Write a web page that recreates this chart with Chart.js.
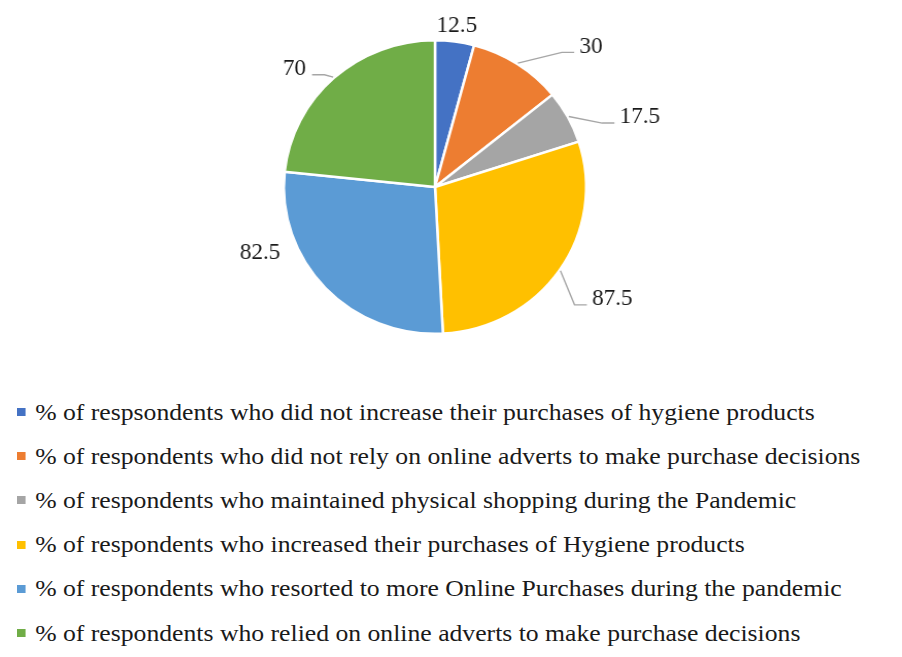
<!DOCTYPE html>
<html>
<head>
<meta charset="utf-8">
<script src="https://cdn.jsdelivr.net/npm/chart.js@4/dist/chart.umd.min.js"></script>
<style>
  html, body { margin: 0; padding: 0; background: #fff; }
  #wrap { position: relative; width: 902px; height: 657px; overflow: hidden; }
  #pie { position: absolute; left: 0; top: 0; transform: scaleX(1.03); transform-origin: 435px 0; }
  #legend { position: absolute; left: 17px; top: 390px; font-family: "Liberation Serif", "Times New Roman", serif; font-size: 24px; color: #1a1a1a; transform: scaleX(1.07); transform-origin: 0 0; }
  .row { display: flex; align-items: center; height: 44.2px; white-space: nowrap; }
  .box { width: 8px; height: 8px; margin-right: 9px; flex: none; }
</style>
</head>
<body>
<div id="wrap">
  <canvas id="pie" width="902" height="380"></canvas>
  <div id="legend"></div>
</div>
<script>
// ─── Data ───
const categories = [
  '% of respsondents who did not increase their purchases of hygiene products',
  '% of respondents who did not rely on online adverts to make purchase decisions',
  '% of respondents who maintained physical shopping during the Pandemic',
  '% of respondents who increased their purchases of Hygiene products',
  '% of respondents who resorted to more Online Purchases during the pandemic',
  '% of respondents who relied on online adverts to make purchase decisions',
];
const values = [12.5, 30, 17.5, 87.5, 82.5, 70];
const valueLabels = ['12.5', '30', '17.5', '87.5', '82.5', '70'];
const colors = ['#4472C4', '#ED7D31', '#A5A5A5', '#FFC000', '#5B9BD5', '#70AD47'];

// label placement relative to each slice: angle shift (deg) from slice middle, distance from centre (px), leader line?
const labelShift = [0, 14, 9, -1.6, 22.5, -7];
const labelDist = [163, 207, 211, 205, 182, 181];
const labelLeader = [false, true, true, true, false, true];

// ─── Outside labels with leader lines ───
const outsideLabels = {
  id: 'outsideLabels',
  afterDatasetsDraw(chart) {
    const ctx = chart.ctx;
    const meta = chart.getDatasetMeta(0);
    ctx.save();
    ctx.font = '22.5px "Liberation Serif", "Times New Roman", serif';
    ctx.textAlign = 'center';
    ctx.textBaseline = 'middle';
    meta.data.forEach((arc, i) => {
      const { x, y, outerRadius, startAngle, endAngle } = arc.getProps(['x', 'y', 'outerRadius', 'startAngle', 'endAngle'], true);
      const mid = (startAngle + endAngle) / 2;
      const a = mid + labelShift[i] * Math.PI / 180;
      const lx = x + labelDist[i] * Math.cos(a);
      const ly = y + labelDist[i] * Math.sin(a);
      const w = ctx.measureText(valueLabels[i]).width;

      if (labelLeader[i]) {
        const sx = x + (outerRadius + 1) * Math.cos(mid);
        const sy = y + (outerRadius + 1) * Math.sin(mid);
        const right = lx > x;
        const ex = right ? lx - w / 2 - 5 : lx + w / 2 + 6;
        const ey = ly + 6.5;
        const bx = right ? ex - 12 : ex + 12;
        ctx.strokeStyle = '#A6A6A6';
        ctx.lineWidth = 1.4;
        ctx.beginPath();
        ctx.moveTo(sx, sy);
        ctx.lineTo(bx, ey);
        ctx.lineTo(ex, ey);
        ctx.stroke();
      }
      ctx.fillStyle = '#1a1a1a';
      ctx.fillText(valueLabels[i], lx, ly + 1);
    });
    ctx.restore();
  },
};

new Chart(document.getElementById('pie').getContext('2d'), {
  type: 'pie',
  data: {
    labels: categories,
    datasets: [{
      data: values,
      backgroundColor: colors,
      borderColor: '#ffffff',
      borderWidth: 2.5,
    }],
  },
  options: {
    responsive: false,
    animation: false,
    layout: { padding: { top: 39, bottom: 45, left: 100, right: 132 } },
    plugins: {
      legend: { display: false },
      tooltip: { enabled: false },
    },
  },
  plugins: [outsideLabels],
});

// ─── Legend ───
document.getElementById('legend').innerHTML = categories.map((label, i) => `
  <div class="row"><span class="box" style="background:${colors[i]}"></span><span>${label}</span></div>
`).join('');
</script>
</body>
</html>
